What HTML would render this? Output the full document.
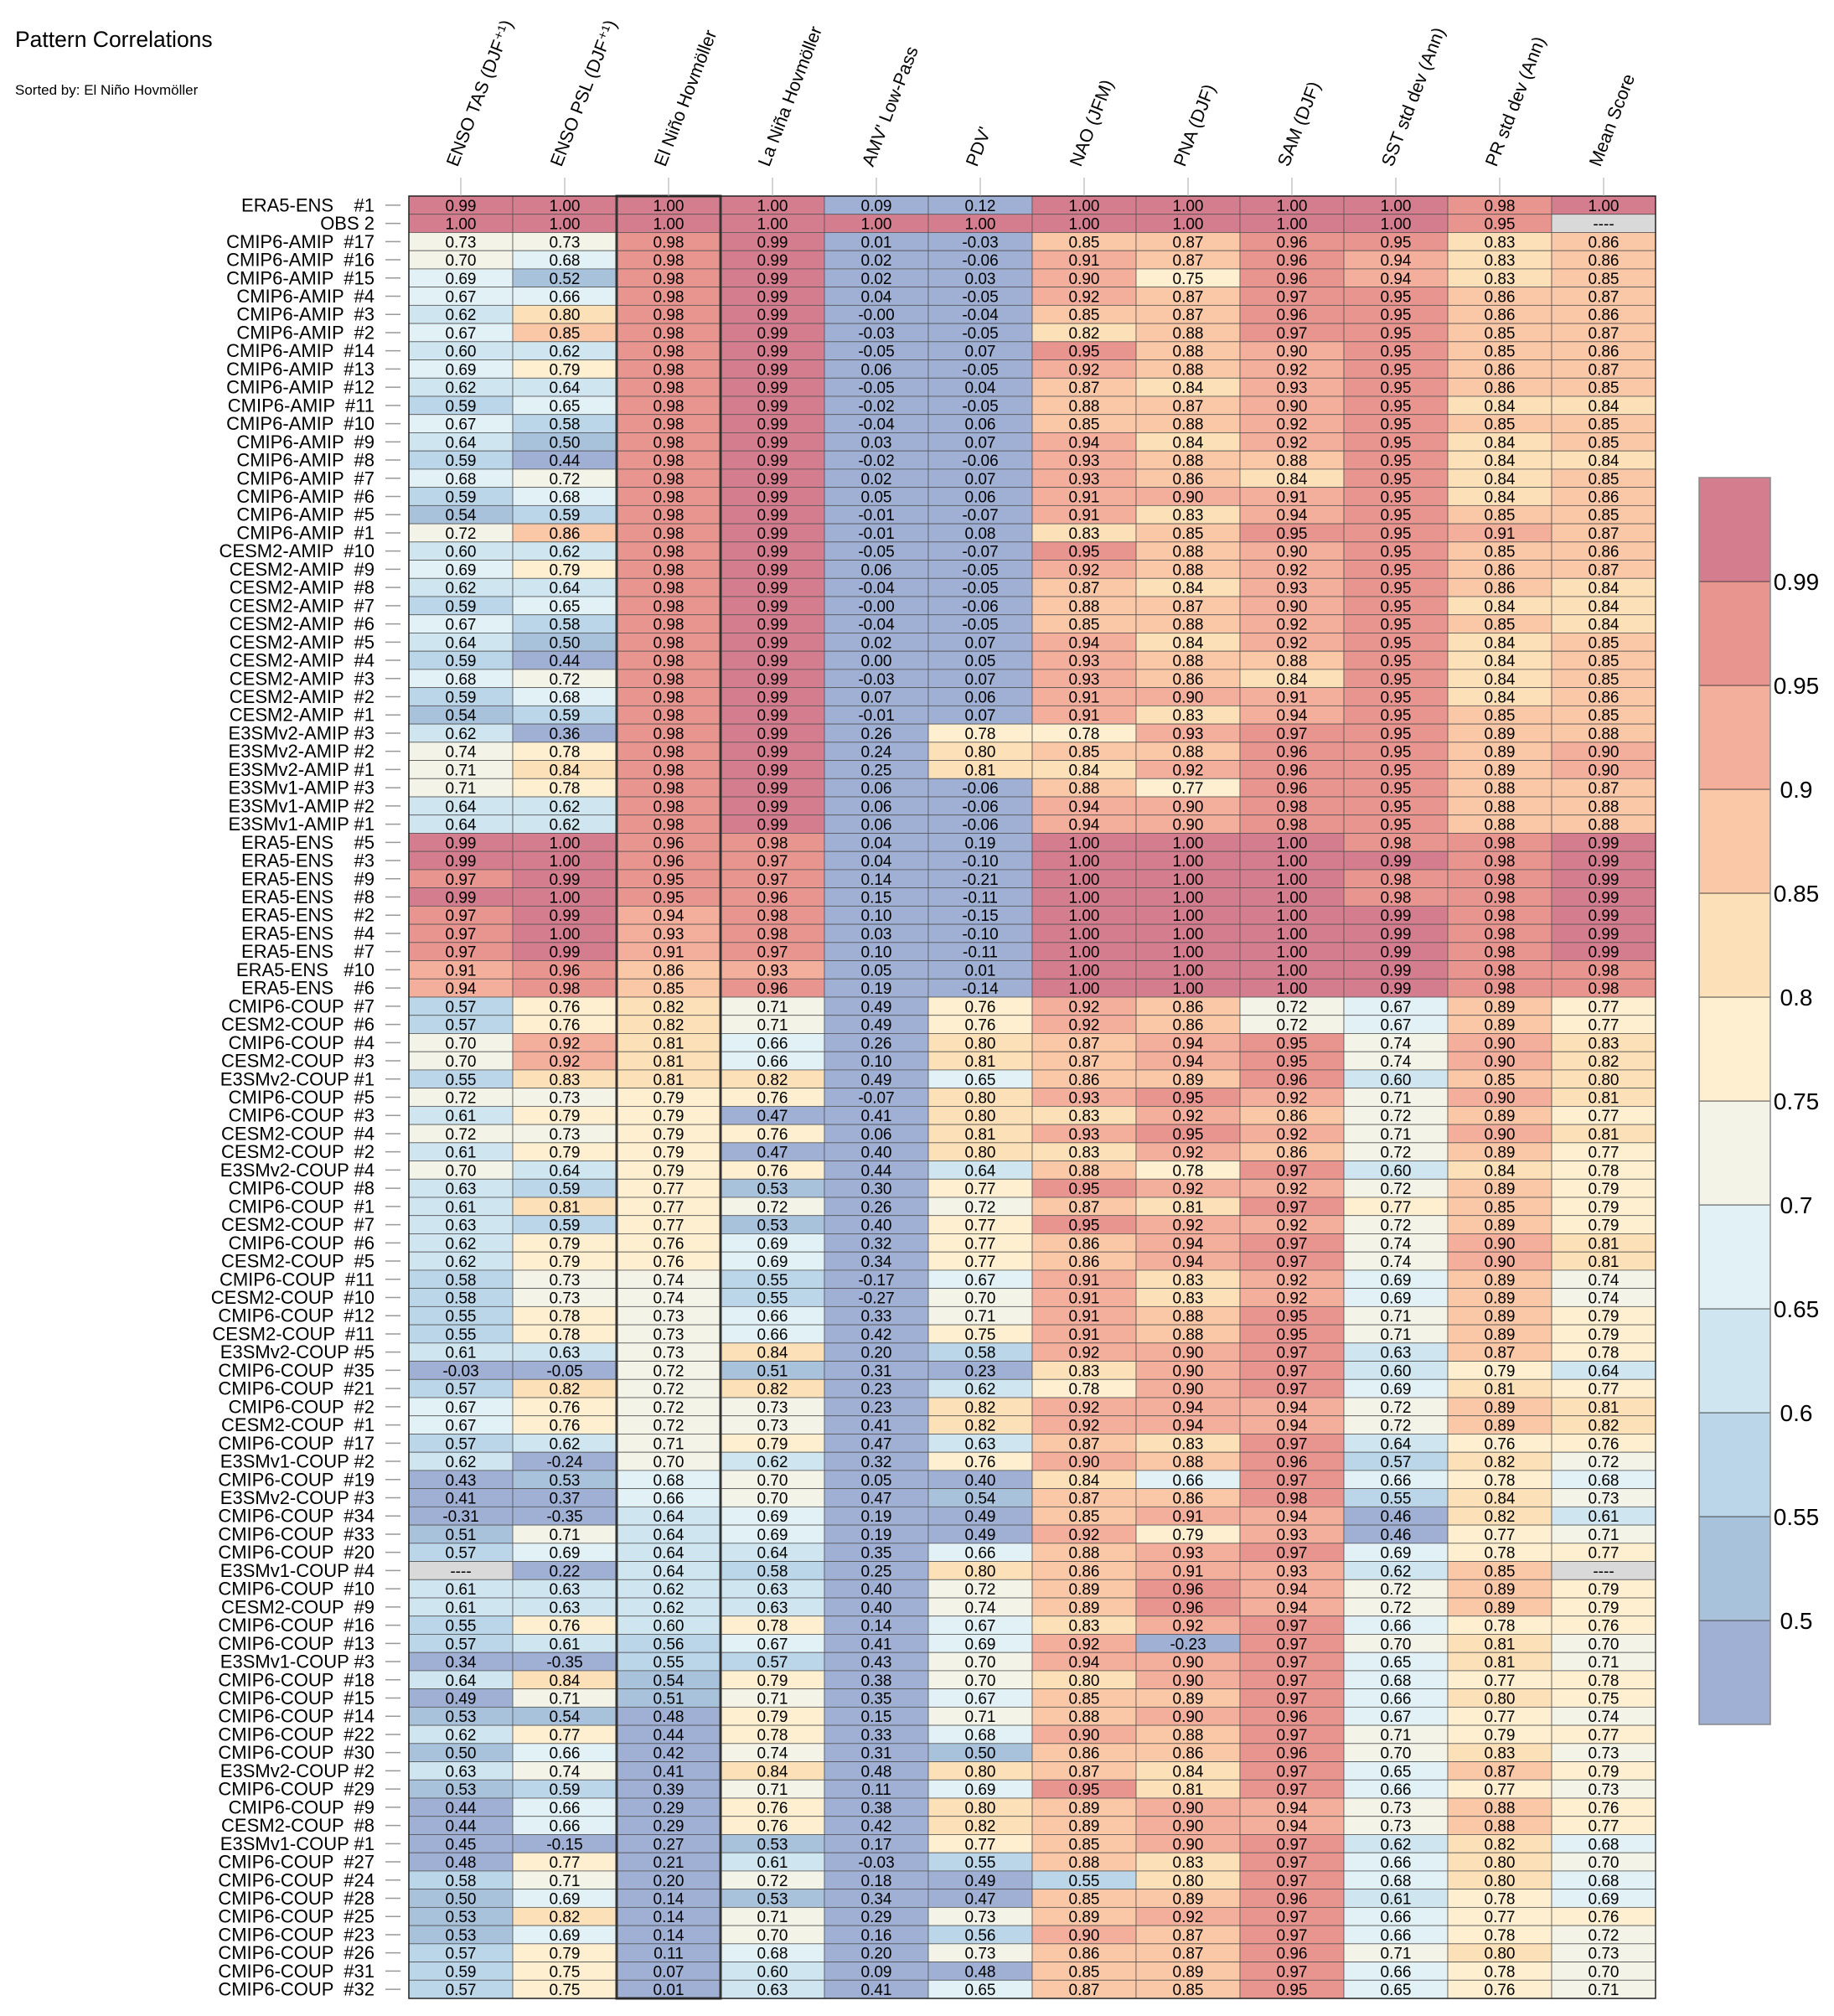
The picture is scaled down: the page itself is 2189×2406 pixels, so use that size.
<!DOCTYPE html>
<html><head><meta charset="utf-8"><style>
html,body{margin:0;padding:0;background:#fff;}
svg{display:block;font-family:"Liberation Sans",sans-serif;}
</style></head><body>
<svg id="chart" width="2189" height="2406" viewBox="0 0 2189 2406" xmlns="http://www.w3.org/2000/svg">
<text x="18" y="56" font-size="26.5" fill="#000">Pattern Correlations</text>
<text x="18" y="113" font-size="17" fill="#000">Sorted by: El Niño Hovmöller</text>
<g id="cells"></g><g id="labels"></g><g id="cbar"></g>
</svg>
<script>
const columnLabels=["ENSO TAS (DJF⁺¹)","ENSO PSL (DJF⁺¹)","El Niño Hovmöller","La Niña Hovmöller","AMV' Low-Pass","PDV'","NAO (JFM)","PNA (DJF)","SAM (DJF)","SST std dev (Ann)","PR std dev (Ann)","Mean Score"];
const rowLabels=["ERA5-ENS    #1","OBS 2","CMIP6-AMIP  #17","CMIP6-AMIP  #16","CMIP6-AMIP  #15","CMIP6-AMIP  #4","CMIP6-AMIP  #3","CMIP6-AMIP  #2","CMIP6-AMIP  #14","CMIP6-AMIP  #13","CMIP6-AMIP  #12","CMIP6-AMIP  #11","CMIP6-AMIP  #10","CMIP6-AMIP  #9","CMIP6-AMIP  #8","CMIP6-AMIP  #7","CMIP6-AMIP  #6","CMIP6-AMIP  #5","CMIP6-AMIP  #1","CESM2-AMIP  #10","CESM2-AMIP  #9","CESM2-AMIP  #8","CESM2-AMIP  #7","CESM2-AMIP  #6","CESM2-AMIP  #5","CESM2-AMIP  #4","CESM2-AMIP  #3","CESM2-AMIP  #2","CESM2-AMIP  #1","E3SMv2-AMIP #3","E3SMv2-AMIP #2","E3SMv2-AMIP #1","E3SMv1-AMIP #3","E3SMv1-AMIP #2","E3SMv1-AMIP #1","ERA5-ENS    #5","ERA5-ENS    #3","ERA5-ENS    #9","ERA5-ENS    #8","ERA5-ENS    #2","ERA5-ENS    #4","ERA5-ENS    #7","ERA5-ENS   #10","ERA5-ENS    #6","CMIP6-COUP  #7","CESM2-COUP  #6","CMIP6-COUP  #4","CESM2-COUP  #3","E3SMv2-COUP #1","CMIP6-COUP  #5","CMIP6-COUP  #3","CESM2-COUP  #4","CESM2-COUP  #2","E3SMv2-COUP #4","CMIP6-COUP  #8","CMIP6-COUP  #1","CESM2-COUP  #7","CMIP6-COUP  #6","CESM2-COUP  #5","CMIP6-COUP  #11","CESM2-COUP  #10","CMIP6-COUP  #12","CESM2-COUP  #11","E3SMv2-COUP #5","CMIP6-COUP  #35","CMIP6-COUP  #21","CMIP6-COUP  #2","CESM2-COUP  #1","CMIP6-COUP  #17","E3SMv1-COUP #2","CMIP6-COUP  #19","E3SMv2-COUP #3","CMIP6-COUP  #34","CMIP6-COUP  #33","CMIP6-COUP  #20","E3SMv1-COUP #4","CMIP6-COUP  #10","CESM2-COUP  #9","CMIP6-COUP  #16","CMIP6-COUP  #13","E3SMv1-COUP #3","CMIP6-COUP  #18","CMIP6-COUP  #15","CMIP6-COUP  #14","CMIP6-COUP  #22","CMIP6-COUP  #30","E3SMv2-COUP #2","CMIP6-COUP  #29","CMIP6-COUP  #9","CESM2-COUP  #8","E3SMv1-COUP #1","CMIP6-COUP  #27","CMIP6-COUP  #24","CMIP6-COUP  #28","CMIP6-COUP  #25","CMIP6-COUP  #23","CMIP6-COUP  #26","CMIP6-COUP  #31","CMIP6-COUP  #32"];
const ensoTas=[.99,1,.73,.70,.69,.67,.62,.67,.60,.69,.62,.59,.67,.64,.59,.68,.59,.54,.72,.60,.69,.62,.59,.67,.64,.59,.68,.59,.54,.62,.74,.71,.71,.64,.64,.99,.99,.97,.99,.97,.97,.97,.91,.94,.57,.57,.70,.70,.55,.72,.61,.72,.61,.70,.63,.61,.63,.62,.62,.58,.58,.55,.55,.61,-.03,.57,.67,.67,.57,.62,.43,.41,-.31,.51,.57,null,.61,.61,.55,.57,.34,.64,.49,.53,.62,.50,.63,.53,.44,.44,.45,.48,.58,.50,.53,.53,.57,.59,.57];
const ensoPsl=[1,1,.73,.68,.52,.66,.80,.85,.62,.79,.64,.65,.58,.50,.44,.72,.68,.59,.86,.62,.79,.64,.65,.58,.50,.44,.72,.68,.59,.36,.78,.84,.78,.62,.62,1,1,.99,1,.99,1,.99,.96,.98,.76,.76,.92,.92,.83,.73,.79,.73,.79,.64,.59,.81,.59,.79,.79,.73,.73,.78,.78,.63,-.05,.82,.76,.76,.62,-.24,.53,.37,-.35,.71,.69,.22,.63,.63,.76,.61,-.35,.84,.71,.54,.77,.66,.74,.59,.66,.66,-.15,.77,.71,.69,.82,.69,.79,.75,.75];
const elNino=[1,1,.98,.98,.98,.98,.98,.98,.98,.98,.98,.98,.98,.98,.98,.98,.98,.98,.98,.98,.98,.98,.98,.98,.98,.98,.98,.98,.98,.98,.98,.98,.98,.98,.98,.96,.96,.95,.95,.94,.93,.91,.86,.85,.82,.82,.81,.81,.81,.79,.79,.79,.79,.79,.77,.77,.77,.76,.76,.74,.74,.73,.73,.73,.72,.72,.72,.72,.71,.70,.68,.66,.64,.64,.64,.64,.62,.62,.60,.56,.55,.54,.51,.48,.44,.42,.41,.39,.29,.29,.27,.21,.20,.14,.14,.14,.11,.07,.01];
const laNina=[1,1,.99,.99,.99,.99,.99,.99,.99,.99,.99,.99,.99,.99,.99,.99,.99,.99,.99,.99,.99,.99,.99,.99,.99,.99,.99,.99,.99,.99,.99,.99,.99,.99,.99,.98,.97,.97,.96,.98,.98,.97,.93,.96,.71,.71,.66,.66,.82,.76,.47,.76,.47,.76,.53,.72,.53,.69,.69,.55,.55,.66,.66,.84,.51,.82,.73,.73,.79,.62,.70,.70,.69,.69,.64,.58,.63,.63,.78,.67,.57,.79,.71,.79,.78,.74,.84,.71,.76,.76,.53,.61,.72,.53,.71,.70,.68,.60,.63];
const amv=[.09,1,.01,.02,.02,.04,-.00,-.03,-.05,.06,-.05,-.02,-.04,.03,-.02,.02,.05,-.01,-.01,-.05,.06,-.04,-.00,-.04,.02,.00,-.03,.07,-.01,.26,.24,.25,.06,.06,.06,.04,.04,.14,.15,.10,.03,.10,.05,.19,.49,.49,.26,.10,.49,-.07,.41,.06,.40,.44,.30,.26,.40,.32,.34,-.17,-.27,.33,.42,.20,.31,.23,.23,.41,.47,.32,.05,.47,.19,.19,.35,.25,.40,.40,.14,.41,.43,.38,.35,.15,.33,.31,.48,.11,.38,.42,.17,-.03,.18,.34,.29,.16,.20,.09,.41];
const pdv=[.12,1,-.03,-.06,.03,-.05,-.04,-.05,.07,-.05,.04,-.05,.06,.07,-.06,.07,.06,-.07,.08,-.07,-.05,-.05,-.06,-.05,.07,.05,.07,.06,.07,.78,.80,.81,-.06,-.06,-.06,.19,-.10,-.21,-.11,-.15,-.10,-.11,.01,-.14,.76,.76,.80,.81,.65,.80,.80,.81,.80,.64,.77,.72,.77,.77,.77,.67,.70,.71,.75,.58,.23,.62,.82,.82,.63,.76,.40,.54,.49,.49,.66,.80,.72,.74,.67,.69,.70,.70,.67,.71,.68,.50,.80,.69,.80,.82,.77,.55,.49,.47,.73,.56,.73,.48,.65];
const nao=[1,1,.85,.91,.90,.92,.85,.82,.95,.92,.87,.88,.85,.94,.93,.93,.91,.91,.83,.95,.92,.87,.88,.85,.94,.93,.93,.91,.91,.78,.85,.84,.88,.94,.94,1,1,1,1,1,1,1,1,1,.92,.92,.87,.87,.86,.93,.83,.93,.83,.88,.95,.87,.95,.86,.86,.91,.91,.91,.91,.92,.83,.78,.92,.92,.87,.90,.84,.87,.85,.92,.88,.86,.89,.89,.83,.92,.94,.80,.85,.88,.90,.86,.87,.95,.89,.89,.85,.88,.55,.85,.89,.90,.86,.85,.87];
const pna=[1,1,.87,.87,.75,.87,.87,.88,.88,.88,.84,.87,.88,.84,.88,.86,.90,.83,.85,.88,.88,.84,.87,.88,.84,.88,.86,.90,.83,.93,.88,.92,.77,.90,.90,1,1,1,1,1,1,1,1,1,.86,.86,.94,.94,.89,.95,.92,.95,.92,.78,.92,.81,.92,.94,.94,.83,.83,.88,.88,.90,.90,.90,.94,.94,.83,.88,.66,.86,.91,.79,.93,.91,.96,.96,.92,-.23,.90,.90,.89,.90,.88,.86,.84,.81,.90,.90,.90,.83,.80,.89,.92,.87,.87,.89,.85];
const sam=[1,1,.96,.96,.96,.97,.96,.97,.90,.92,.93,.90,.92,.92,.88,.84,.91,.94,.95,.90,.92,.93,.90,.92,.92,.88,.84,.91,.94,.97,.96,.96,.96,.98,.98,1,1,1,1,1,1,1,1,1,.72,.72,.95,.95,.96,.92,.86,.92,.86,.97,.92,.97,.92,.97,.97,.92,.92,.95,.95,.97,.97,.97,.94,.94,.97,.96,.97,.98,.94,.93,.97,.93,.94,.94,.97,.97,.97,.97,.97,.96,.97,.96,.97,.97,.94,.94,.97,.97,.97,.96,.97,.97,.96,.97,.95];
const sstStd=[1,1,.95,.94,.94,.95,.95,.95,.95,.95,.95,.95,.95,.95,.95,.95,.95,.95,.95,.95,.95,.95,.95,.95,.95,.95,.95,.95,.95,.95,.95,.95,.95,.95,.95,.98,.99,.98,.98,.99,.99,.99,.99,.99,.67,.67,.74,.74,.60,.71,.72,.71,.72,.60,.72,.77,.72,.74,.74,.69,.69,.71,.71,.63,.60,.69,.72,.72,.64,.57,.66,.55,.46,.46,.69,.62,.72,.72,.66,.70,.65,.68,.66,.67,.71,.70,.65,.66,.73,.73,.62,.66,.68,.61,.66,.66,.71,.66,.65];
const prStd=[.98,.95,.83,.83,.83,.86,.86,.85,.85,.86,.86,.84,.85,.84,.84,.84,.84,.85,.91,.85,.86,.86,.84,.85,.84,.84,.84,.84,.85,.89,.89,.89,.88,.88,.88,.98,.98,.98,.98,.98,.98,.98,.98,.98,.89,.89,.90,.90,.85,.90,.89,.90,.89,.84,.89,.85,.89,.90,.90,.89,.89,.89,.89,.87,.79,.81,.89,.89,.76,.82,.78,.84,.82,.77,.78,.85,.89,.89,.78,.81,.81,.77,.80,.77,.79,.83,.87,.77,.88,.88,.82,.80,.80,.78,.77,.78,.80,.78,.76];
const meanScore=[1,null,.86,.86,.85,.87,.86,.87,.86,.87,.85,.84,.85,.85,.84,.85,.86,.85,.87,.86,.87,.84,.84,.84,.85,.85,.85,.86,.85,.88,.90,.90,.87,.88,.88,.99,.99,.99,.99,.99,.99,.99,.98,.98,.77,.77,.83,.82,.80,.81,.77,.81,.77,.78,.79,.79,.79,.81,.81,.74,.74,.79,.79,.78,.64,.77,.81,.82,.76,.72,.68,.73,.61,.71,.77,null,.79,.79,.76,.70,.71,.78,.75,.74,.77,.73,.79,.73,.76,.77,.68,.70,.68,.69,.76,.72,.73,.70,.71];
const levels=[0.5,0.55,0.6,0.65,0.7,0.75,0.8,0.85,0.9,0.95,0.99];
const levelLabels=["0.5","0.55","0.6","0.65","0.7","0.75","0.8","0.85","0.9","0.95","0.99"];

const columns=[ensoTas,ensoPsl,elNino,laNina,amv,pdv,nao,pna,sam,sstStd,prStd,meanScore];
const colors=["#9fb0d4","#a9c2dc","#bad6e8","#cfe6f0","#e2f1f6","#f3f3e8","#fdefd0","#fce0b8","#fac8a7","#f3ae9c","#e9958f","#d47d8e"];
const NS="http://www.w3.org/2000/svg";
const X0=488,X1=1976,Y0=234,Y1=2385;
const nR=rowLabels.length,nC=columns.length;
const cw=(X1-X0)/nC,rh=(Y1-Y0)/nR;
function xCol(i){return X0+i*cw;}
function yRow(j){return Y0+j*rh;}
function colorOf(v){if(v===null)return "#d9d9d9";let k=0;for(let i=0;i<levels.length;i++){if(v>=levels[i]-1e-9)k=i+1;}return colors[k];}
function fmt(v){if(v===null)return "----";if(Object.is(v,-0))return "-0.00";return v.toFixed(2);}
function mk(tag,attrs,parent){const e=document.createElementNS(NS,tag);for(const k in attrs)e.setAttribute(k,attrs[k]);parent.appendChild(e);return e;}
const cells=document.getElementById('cells'),labels=document.getElementById('labels'),cbar=document.getElementById('cbar');
for(let c=0;c<nC;c++){
  for(let r=0;r<nR;r++){
    const v=columns[c][r];
    const rect=mk('rect',{x:xCol(c),y:yRow(r),width:cw,height:rh,fill:colorOf(v),stroke:"#555",'stroke-width':0.8},cells);
    
    
    const t=mk('text',{x:xCol(c)+cw/2,y:yRow(r)+rh/2+7,'text-anchor':'middle','font-size':19,fill:"#000"},cells);
    t.textContent=fmt(v);
    
    
  }
}
const el=mk('rect',{x:xCol(2),y:Y0,width:cw,height:Y1-Y0,fill:"none",stroke:"#333",'stroke-width':3},cells);


const ob=mk('rect',{x:X0,y:Y0,width:X1-X0,height:Y1-Y0,fill:"none",stroke:"#222",'stroke-width':1.5},cells);


for(let r=0;r<nR;r++){
  const yc=yRow(r)+rh/2;
  const tk=mk('line',{x1:460,x2:478,y1:yc,y2:yc,stroke:"#999",'stroke-width':1.5},labels);
  
  
  const t=mk('text',{x:447,y:yc+7.5,'text-anchor':'end','font-size':22,fill:"#000"},labels);
  t.style.whiteSpace="pre";
  t.textContent=rowLabels[r];
  
  
}
for(let c=0;c<nC;c++){
  const xc=xCol(c)+cw/2;
  const l=mk('line',{x1:xc,x2:xc,y1:212,y2:Y0,stroke:"#aaa",'stroke-width':1},labels);
  
  
  const t=mk('text',{x:0,y:0,transform:`translate(${xc-4},200) rotate(-69)`,'font-size':21.5,fill:"#000"},labels);
  t.textContent=columnLabels[c];
  
  
}
const CB0=570,CB1=2058,CBX=2028,CBW=85;
const nb=colors.length,bh=(CB1-CB0)/nb;
for(let i=0;i<nb;i++){
  const rect=mk('rect',{x:CBX,y:CB1-(i+1)*bh,width:CBW,height:bh,fill:colors[i],stroke:"#333",'stroke-width':0.8},cbar);
  
  
}
for(let i=0;i<levels.length;i++){
  const y=CB1-(i+1)*bh;
  const t=mk('text',{x:2144,y:y+10,'text-anchor':'middle','font-size':28,fill:"#000"},cbar);
  t.textContent=levelLabels[i];
  
  
}
const cbo=mk('rect',{x:CBX,y:CB0,width:CBW,height:CB1-CB0,fill:"none",stroke:"#888",'stroke-width':1.5},cbar);


</script>
</body></html>
